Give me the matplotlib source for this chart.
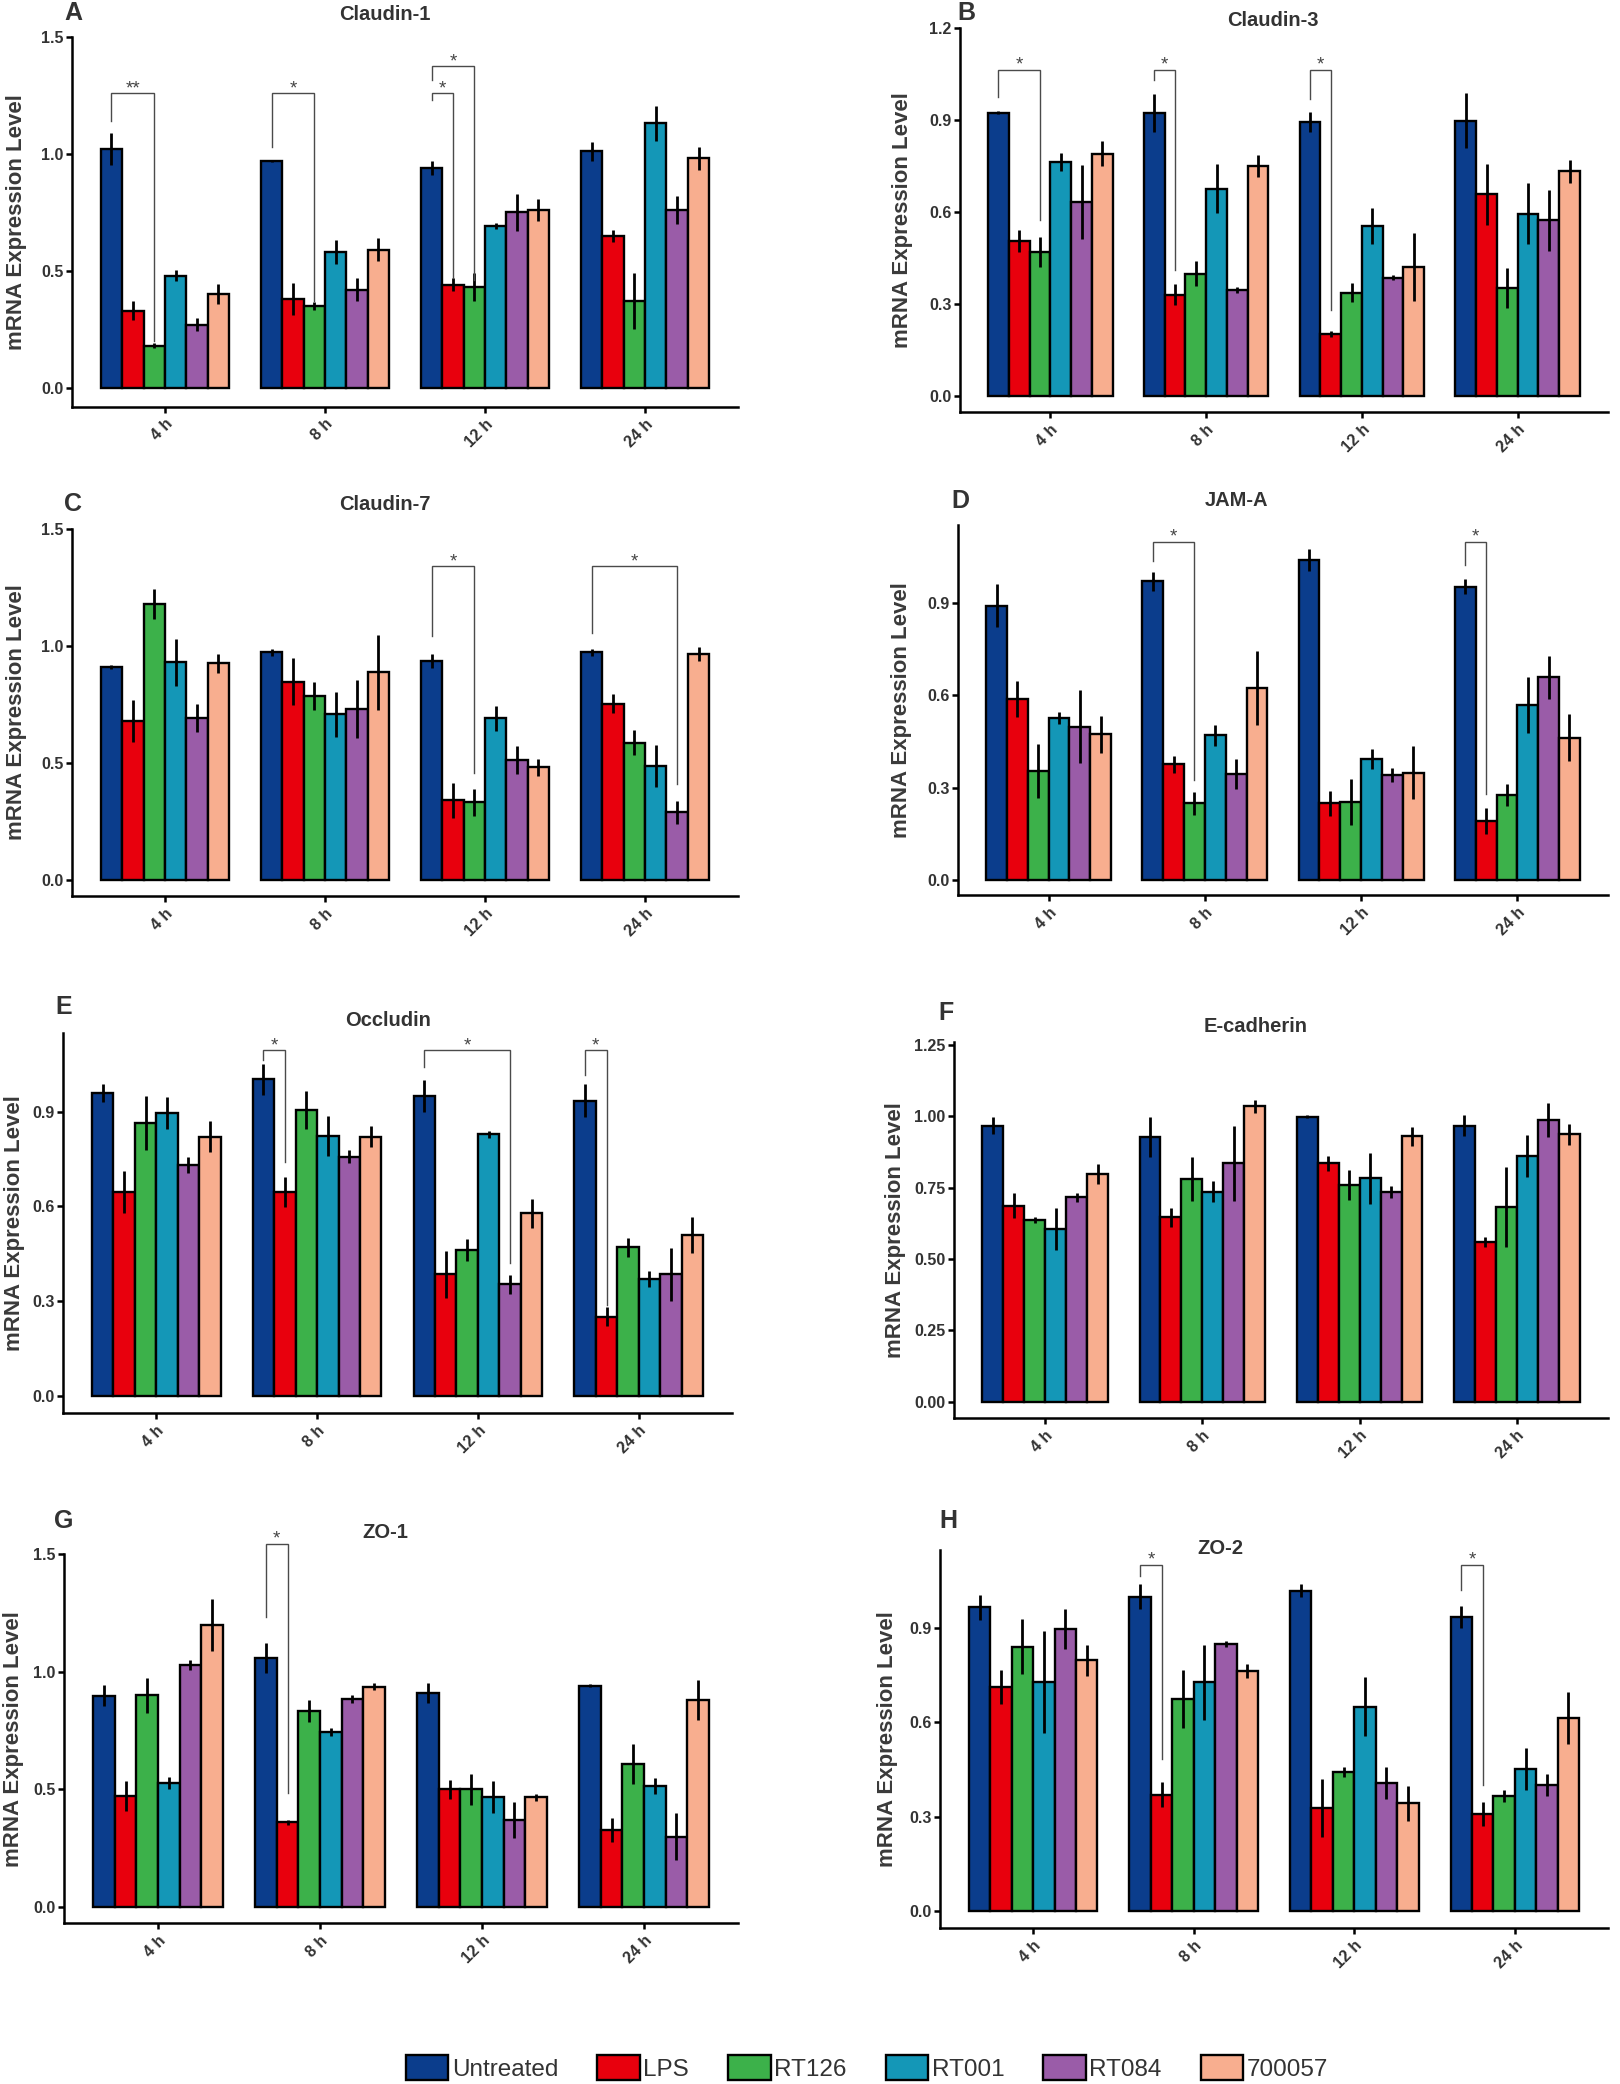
import matplotlib
matplotlib.use("Agg")
import matplotlib.pyplot as plt
from matplotlib.patches import Patch
import numpy as np

plt.rcParams['font.family'] = ['Liberation Sans', 'DejaVu Sans']

# ---------------- data ----------------
time_points = ['4 h', '8 h', '12 h', '24 h']
treatments = ['Untreated', 'LPS', 'RT126', 'RT001', 'RT084', '700057']
colors = ['#0b3d8c', '#e8000d', '#3cb14a', '#1497b7', '#9a5ca8', '#f8ae8f']

# rows: time points, columns: treatments
claudin1_mean = [[1.02, 0.33, 0.18, 0.48, 0.27, 0.40],
                 [0.97, 0.38, 0.35, 0.58, 0.42, 0.59],
                 [0.94, 0.44, 0.43, 0.69, 0.75, 0.76],
                 [1.01, 0.65, 0.37, 1.13, 0.76, 0.98]]
claudin1_sem = [[0.07, 0.04, 0.01, 0.025, 0.027, 0.043],
                [0.005, 0.07, 0.017, 0.05, 0.05, 0.05],
                [0.03, 0.028, 0.06, 0.013, 0.078, 0.047],
                [0.04, 0.026, 0.12, 0.075, 0.06, 0.05]]

claudin3_mean = [[0.923, 0.505, 0.47, 0.763, 0.633, 0.79],
                 [0.923, 0.33, 0.399, 0.676, 0.345, 0.75],
                 [0.893, 0.203, 0.337, 0.554, 0.386, 0.42],
                 [0.897, 0.658, 0.353, 0.595, 0.573, 0.733]]
claudin3_sem = [[0.005, 0.035, 0.05, 0.03, 0.12, 0.04],
                [0.063, 0.034, 0.04, 0.08, 0.01, 0.035],
                [0.033, 0.01, 0.03, 0.06, 0.008, 0.11],
                [0.09, 0.1, 0.065, 0.1, 0.1, 0.038]]

claudin7_mean = [[0.91, 0.68, 1.18, 0.93, 0.69, 0.925],
                 [0.973, 0.846, 0.784, 0.707, 0.73, 0.886],
                 [0.936, 0.341, 0.331, 0.69, 0.512, 0.481],
                 [0.973, 0.752, 0.586, 0.488, 0.289, 0.964]]
claudin7_sem = [[0.008, 0.09, 0.064, 0.1, 0.06, 0.04],
                [0.015, 0.1, 0.06, 0.095, 0.124, 0.16],
                [0.03, 0.075, 0.057, 0.053, 0.06, 0.037],
                [0.015, 0.04, 0.054, 0.09, 0.048, 0.03]]

jama_mean = [[0.892, 0.589, 0.355, 0.526, 0.499, 0.474],
             [0.971, 0.376, 0.249, 0.47, 0.345, 0.624],
             [1.041, 0.249, 0.253, 0.393, 0.342, 0.349],
             [0.954, 0.193, 0.277, 0.569, 0.659, 0.463]]
jama_sem = [[0.07, 0.058, 0.087, 0.02, 0.12, 0.06],
            [0.03, 0.028, 0.038, 0.035, 0.048, 0.12],
            [0.036, 0.04, 0.075, 0.033, 0.022, 0.087],
            [0.025, 0.042, 0.035, 0.09, 0.07, 0.076]]

occludin_mean = [[0.958, 0.645, 0.865, 0.895, 0.731, 0.821],
                 [1.002, 0.645, 0.905, 0.824, 0.757, 0.821],
                 [0.95, 0.385, 0.462, 0.828, 0.353, 0.578],
                 [0.935, 0.251, 0.47, 0.37, 0.385, 0.51]]
occludin_sem = [[0.028, 0.067, 0.085, 0.05, 0.026, 0.05],
                [0.05, 0.047, 0.06, 0.063, 0.021, 0.032],
                [0.05, 0.074, 0.035, 0.012, 0.03, 0.047],
                [0.052, 0.03, 0.03, 0.026, 0.084, 0.056]]

ecad_mean = [[0.967, 0.687, 0.637, 0.604, 0.716, 0.798],
             [0.929, 0.646, 0.78, 0.736, 0.835, 1.036],
             [0.999, 0.835, 0.759, 0.783, 0.736, 0.931],
             [0.967, 0.561, 0.681, 0.861, 0.987, 0.938]]
ecad_sem = [[0.03, 0.043, 0.01, 0.074, 0.016, 0.035],
            [0.07, 0.034, 0.078, 0.037, 0.13, 0.023],
            [0.005, 0.026, 0.053, 0.09, 0.021, 0.033],
            [0.037, 0.018, 0.14, 0.074, 0.06, 0.037]]

zo1_mean = [[0.898, 0.472, 0.9, 0.525, 1.028, 1.199],
            [1.057, 0.359, 0.833, 0.745, 0.884, 0.936],
            [0.908, 0.5, 0.5, 0.468, 0.369, 0.465],
            [0.94, 0.326, 0.606, 0.513, 0.298, 0.879]]
zo1_sem = [[0.045, 0.064, 0.075, 0.025, 0.021, 0.11],
           [0.064, 0.01, 0.047, 0.017, 0.017, 0.014],
           [0.043, 0.04, 0.066, 0.068, 0.078, 0.014],
           [0.006, 0.052, 0.085, 0.033, 0.1, 0.085]]

zo2_mean = [[0.965, 0.711, 0.84, 0.727, 0.895, 0.796],
            [0.999, 0.369, 0.674, 0.726, 0.849, 0.763],
            [1.017, 0.326, 0.443, 0.649, 0.406, 0.342],
            [0.935, 0.308, 0.365, 0.45, 0.4, 0.612]]
zo2_sem = [[0.04, 0.053, 0.087, 0.163, 0.064, 0.05],
           [0.04, 0.04, 0.092, 0.12, 0.01, 0.022],
           [0.021, 0.092, 0.016, 0.093, 0.05, 0.056],
           [0.035, 0.039, 0.019, 0.067, 0.035, 0.083]]

# significance brackets: (time index, bar i, bar j, top y, left tip end y, right tip end y, label)
claudin1_sig = [(0, 0, 2, 1.259, 1.138, 0.20, '**'), (1, 0, 2, 1.259, 1.03, 0.37, '*'),
                (2, 0, 1, 1.259, 1.23, 0.47, '*'), (2, 0, 2, 1.373, 1.313, 0.46, '*')]
claudin3_sig = [(0, 0, 2, 1.064, 0.975, 0.573, '*'), (1, 0, 1, 1.064, 1.03, 0.41, '*'),
                (2, 0, 1, 1.064, 0.97, 0.28, '*')]
claudin7_sig = [(2, 0, 2, 1.34, 1.043, 0.455, '*'), (3, 0, 4, 1.34, 1.055, 0.41, '*')]
jama_sig = [(1, 0, 2, 1.10, 1.036, 0.325, '*'), (3, 0, 1, 1.10, 1.025, 0.28, '*')]
occludin_sig = [(1, 0, 1, 1.095, 1.063, 0.742, '*'), (2, 0, 4, 1.095, 1.04, 0.42, '*'),
                (3, 0, 1, 1.095, 1.016, 0.288, '*')]
ecad_sig = []
zo1_sig = [(1, 0, 1, 1.545, 1.234, 0.482, '*')]
zo2_sig = [(1, 0, 1, 1.10, 1.065, 0.482, '*'), (3, 0, 1, 1.10, 1.02, 0.40, '*')]

# ---------------- layout (pixels in a 1620x2084 canvas) ----------------
W, H = 1620, 2084
fig = plt.figure(figsize=(W / 100, H / 100), dpi=100)

TXT = '#333333'
t_half = [0.0, 0.5, 1.0, 1.5]
t_03 = [0.0, 0.3, 0.6, 0.9]

panels = [
    # letter, title, mean, sem, sig, left, right, y0_px, px_per_unit, ylo, yhi, yticks, tick fmt, ylabel_right_px, title_xy, letter_xy
    ('A', 'Claudin-1', claudin1_mean, claudin1_sem, claudin1_sig, 72, 738, 388, 234.3, -0.08, 1.5, t_half, '%.1f', 27, (385, 14), (73, 13)),
    ('B', 'Claudin-3', claudin3_mean, claudin3_sem, claudin3_sig, 960, 1608, 396, 306.7, -0.052, 1.2, t_03 + [1.2], '%.1f', 913, (1273, 20), (966, 13)),
    ('C', 'Claudin-7', claudin7_mean, claudin7_sem, claudin7_sig, 72, 738, 880, 234.3, -0.068, 1.5, t_half, '%.1f', 27, (385, 504), (73, 504)),
    ('D', 'JAM-A', jama_mean, jama_sem, jama_sig, 958, 1608, 880, 307.6, -0.049, 1.154, t_03, '%.1f', 912, (1236, 501), (960, 501)),
    ('E', 'Occludin', occludin_mean, occludin_sem, occludin_sig, 63, 732, 1396, 316.0, -0.054, 1.149, t_03, '%.1f', 25, (388, 1020), (64, 1007)),
    ('F', 'E-cadherin', ecad_mean, ecad_sem, ecad_sig, 954, 1608, 1401.7, 285.3, -0.057, 1.26, [0, 0.25, 0.5, 0.75, 1.0, 1.25], '%.2f', 906, (1256, 1027), (946, 1013)),
    ('G', 'ZO-1', zo1_mean, zo1_sem, zo1_sig, 64, 738, 1906.7, 235.0, -0.07, 1.5, t_half, '%.1f', 24, (385, 1533), (64, 1521)),
    ('H', 'ZO-2', zo2_mean, zo2_sem, zo2_sig, 940, 1608, 1911, 314.8, -0.054, 1.147, t_03, '%.1f', 898, (1220, 1548), (948, 1521)),
]

n_t = len(treatments)
bw = 0.8 / n_t
xg = np.arange(1, len(time_points) + 1)

for (letter, title, mean, sem, sig, left, right, y0, ppu, ylo, yhi, yt, fmt,
     ylab_px, title_xy, letter_xy) in panels:
    mean = np.array(mean)
    sem = np.array(sem)
    top_px = y0 - yhi * ppu
    bot_px = y0 - ylo * ppu
    ax = fig.add_axes([left / W, 1 - bot_px / H, (right - left) / W, (bot_px - top_px) / H])
    ax.set_ylim(ylo, yhi)
    ax.set_xlim(0.42, 4.58)

    for i in range(n_t):
        xs = xg + (i - (n_t - 1) / 2) * bw
        ax.bar(xs, mean[:, i], width=bw, color=colors[i], edgecolor='black',
               linewidth=1.7, zorder=2)
        ax.errorbar(xs, mean[:, i], yerr=sem[:, i], fmt='none', ecolor='black',
                    elinewidth=2.0, capsize=0, zorder=3)

    for (g, i, j, ytop, yl, yr, lab) in sig:
        x1 = xg[g] + (i - (n_t - 1) / 2) * bw
        x2 = xg[g] + (j - (n_t - 1) / 2) * bw
        ax.plot([x1, x1, x2, x2], [yl, ytop, ytop, yr], color='#4a4a4a', lw=1.0,
                clip_on=False, zorder=4, solid_joinstyle='miter')
        ax.text((x1 + x2) / 2, ytop, lab, ha='center', va='baseline',
                fontsize=13.5, color='#444444', clip_on=False)

    for s in ['top', 'right']:
        ax.spines[s].set_visible(False)
    for s in ['left', 'bottom']:
        ax.spines[s].set_linewidth(1.8)
        ax.spines[s].set_color('black')

    ax.set_yticks(yt)
    ax.set_yticklabels([fmt % v for v in yt])
    ax.set_xticks(xg)
    ax.set_xticklabels(time_points, rotation=45, ha='right', rotation_mode='anchor')
    ax.tick_params(axis='both', length=4, width=1.8, colors='black', labelcolor=TXT)
    ax.tick_params(axis='y', labelsize=11.5, pad=2)
    ax.tick_params(axis='x', labelsize=11.5, pad=3)
    for lbl in ax.get_xticklabels() + ax.get_yticklabels():
        lbl.set_fontweight('bold')

    ax.set_ylabel('mRNA Expression Level', fontsize=16, fontweight='bold', color='#3a3a3a')
    ax.yaxis.set_label_coords((ylab_px - left) / (right - left), 0.5)

    fig.text(title_xy[0] / W, 1 - title_xy[1] / H, title, ha='center', va='center',
             fontsize=14.5, fontweight='bold', color=TXT)
    fig.text(letter_xy[0] / W, 1 - letter_xy[1] / H, letter, ha='center', va='center',
             fontsize=18, fontweight='bold', color=TXT)

handles = [Patch(facecolor=c, edgecolor='black', linewidth=1.7, label=t)
           for c, t in zip(colors, treatments)]
fig.legend(handles=handles, loc='center', bbox_to_anchor=(867 / W, 1 - 2068 / H), ncol=6,
           frameon=False, fontsize=17.5, handlelength=1.75, handleheight=1.2,
           handletextpad=0.15, columnspacing=1.6, labelcolor=TXT)

fig.savefig('out.png', dpi=100, facecolor='white')
